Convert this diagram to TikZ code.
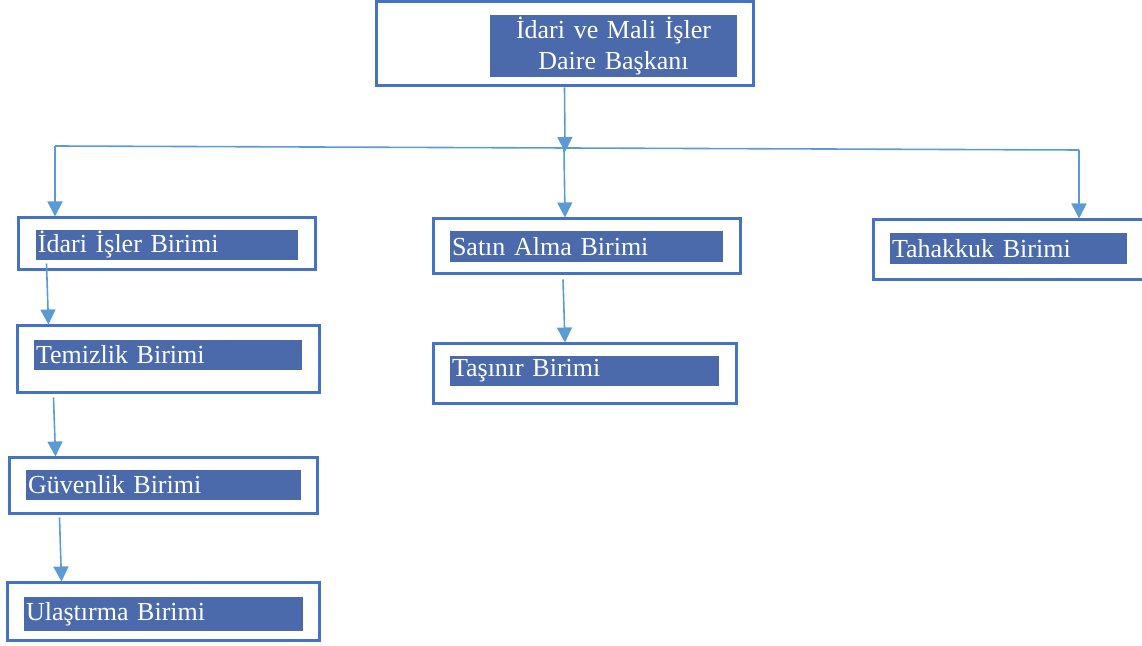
\documentclass[tikz,border=0pt]{standalone}
\usepackage{fontspec}
\setmainfont{Liberation Serif}
\usetikzlibrary{arrows.meta}

\definecolor{boxblue}{RGB}{68,114,196}
\definecolor{barblue}{RGB}{75,106,172}
\definecolor{arrowblue}{RGB}{91,155,213}

\tikzset{
  unitbox/.style={draw=boxblue, line width=1.5pt, inner sep=0pt},
  namebar/.style 2 args={fill=barblue, text=white, inner xsep=1pt, inner ysep=0pt,
    text width=#1, minimum height=#2, align=left, font=\fontsize{13}{15.5}\selectfont},
  arr/.style={draw=arrowblue, line width=0.8pt, -{Triangle[width=7.5pt,length=7.5pt]}}
}

\begin{document}
\begin{tikzpicture}[x=0.5pt,y=-0.5pt]
  \useasboundingbox (0,0) rectangle (1142,646);

  % head of the department
  \node [unitbox, minimum width=188.5pt, minimum height=42pt] (top) at (564.5,44) {};
  \node [namebar={121.5pt}{31pt}, align=center] (topname) at (613.5,46)
    {İdari ve Mali İşler\\Daire Başkanı};

  % units
  \node [unitbox, minimum width=148.5pt, minimum height=26pt] (idari) at (166.5,244) {};
  \node [namebar={129pt}{15pt}] (idariname) at (167,245) {İdari İşler Birimi};

  \node [unitbox, minimum width=151pt, minimum height=33.5pt] (temizlik) at (168,359.5) {};
  \node [namebar={132pt}{15pt}] (temizlikname) at (168,355) {Temizlik Birimi};

  \node [unitbox, minimum width=154pt, minimum height=28pt] (guvenlik) at (163,486) {};
  \node [namebar={135.5pt}{15pt}] (guvenlikname) at (163.5,485) {Güvenlik Birimi};

  \node [unitbox, minimum width=156pt, minimum height=29pt] (ulastirma) at (163,612) {};
  \node [namebar={137.5pt}{17pt}] (ulastirmaname) at (163.5,614) {Ulaştırma Birimi};

  \node [unitbox, minimum width=153.5pt, minimum height=27.5pt] (satin) at (586.5,246.5) {};
  \node [namebar={134.5pt}{15.5pt}] (satinname) at (586.5,247) {Satın Alma Birimi};

  \node [unitbox, minimum width=151.5pt, minimum height=30pt] (tasinir) at (584.5,374) {};
  \node [namebar={132.5pt}{15pt}] (tasinirname) at (584.5,371) {Taşınır Birimi};

  \node [unitbox, minimum width=135.5pt, minimum height=30pt] (tahakkuk) at (1008.5,250) {};
  \node [namebar={116.5pt}{15.5pt}] (tahakkukname) at (1008.5,249) {Tahakkuk Birimi};

  % distribution line
  \coordinate (barL) at (55,146);
  \coordinate (barR) at (1079,150);
  \coordinate (hub) at (565,152);
  \draw [draw=arrowblue, line width=0.8pt] (barL) -- (barR);

  \draw [arr] (top.south) -- (hub);
  \draw [arr] (barL) -- (barL |- idari.north);
  \draw [arr] (564,149) -- (hub |- satin.north);
  \draw [arr] (barR) -- (barR |- tahakkuk.north);

  % chains
  \draw [arr] ([xshift=15pt,yshift=4pt]idari.south west) -- ([xshift=16.5pt]temizlik.north west);
  \draw [arr] ([xshift=19pt,yshift=-1.5pt]temizlik.south west) -- ([xshift=24pt]guvenlik.north west);
  \draw [arr] ([xshift=26pt,yshift=-1pt]guvenlik.south west) -- ([xshift=28pt]ulastirma.north west);
  \draw [arr] ([xshift=-11.75pt,yshift=-2pt]satin.south) -- ([xshift=-9.75pt]tasinir.north);
\end{tikzpicture}
\end{document}
